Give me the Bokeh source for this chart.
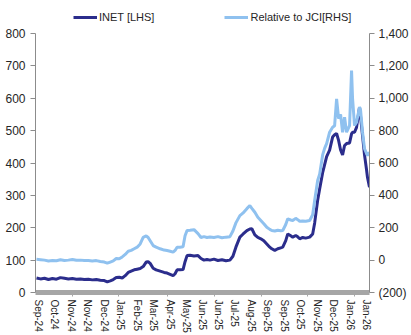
from bokeh.plotting import figure
from bokeh.models import Range1d, LinearAxis, FixedTicker, Legend, LegendItem
from bokeh.layouts import column
from bokeh.embed import file_html
from bokeh.resources import INLINE

# trading-day index (Sep-24 .. Jan-26)
day = [1, 5, 9, 13, 17, 21, 25, 29, 33, 37, 41, 45, 49, 53, 57, 61, 65, 69, 72, 75,
       78, 81, 84, 87, 90, 93, 96, 99, 102, 105, 108, 111, 113, 115, 118, 121, 125, 129, 132, 135,
       138, 140, 142, 145, 148, 150, 152, 155, 159, 163, 166, 169, 172, 175, 179, 183, 187, 191, 195, 198,
       201, 205, 208, 212, 215, 217, 220, 223, 226, 229, 232, 235, 237, 240, 243, 246, 248, 251, 253, 256,
       258, 261, 263, 265, 268, 271, 275, 278, 280, 283, 285, 288, 290, 292, 295, 298, 300, 302, 304, 306,
       308, 310, 312, 315, 317, 318, 320, 322, 325, 326, 328, 330, 332, 333, 335]

# INET share price [LHS]
inet = [45, 42, 44, 40, 43, 41, 46, 44, 42, 43, 41, 42, 40, 41, 39, 40, 38, 37, 33, 36,
        40, 46, 47, 45, 52, 62, 66, 70, 72, 74, 80, 94, 95, 90, 75, 70, 66, 62, 60, 56,
        52, 58, 70, 70, 71, 95, 114, 115, 113, 114, 105, 100, 102, 100, 103, 99, 101, 98, 100, 112,
        140, 171, 180, 191, 196, 197, 178, 170, 166, 160, 150, 140, 135, 130, 135, 138, 140, 160, 181, 175,
        171, 176, 172, 166, 170, 168, 171, 181, 215, 285, 320, 370, 395, 420, 440, 480, 487, 491, 470, 440,
        425, 454, 460, 462, 490, 495, 495, 510, 572, 545, 485, 425, 380, 355, 325]

# Relative to JCI (%) [RHS]
rel = [5, 3, 0, -5, -3, -4, 2, -2, 0, 4, -1, 0, -3, -2, -5, -3, -8, -12, -19, -12,
       -5, 10, 8, 20, 35, 55, 60, 70, 80, 100, 141, 150, 140, 120, 90, 80, 70, 62, 59, 55,
       49, 60, 80, 80, 82, 150, 183, 185, 188, 164, 140, 145, 140, 143, 140, 145, 138, 142, 145, 180,
       230, 275, 290, 318, 337, 320, 296, 265, 245, 225, 203, 190, 183, 180, 185, 182, 183, 220, 255, 248,
       245, 258, 250, 240, 242, 240, 245, 280, 368, 492, 530, 650, 690, 720, 790, 821, 830, 996, 875, 900,
       790, 883, 790, 831, 1171, 1000, 831, 852, 945, 930, 790, 688, 660, 646, 667]

x_labels = ["Sep-24", "Oct-24", "Nov-24", "Nov-24", "Dec-24", "Jan-25", "Feb-25", "Mar-25",
            "Apr-25", "May-25", "Jun-25", "Jun-25", "Jul-25", "Aug-25", "Sep-25", "Sep-25",
            "Oct-25", "Nov-25", "Dec-25", "Jan-26", "Jan-26"]
lhs_ticks = [0, 100, 200, 300, 400, 500, 600, 700, 800]
rhs_ticks = [-200, 0, 200, 400, 600, 800, 1000, 1200, 1400]
rhs_labels = ["(200)", "0", "200", "400", "600", "800", "1,000", "1,200", "1,400"]
series_names = ["INET [LHS]", "Relative to JCI[RHS]"]

DARK = "#2b2d8c"
LIGHT = "#8fc1ef"
AX = "#8c8c8c"
TXT = "#262626"
FONT = "Liberation Sans"

# ---- legend strip ----
top = figure(width=411, height=25, output_backend="svg", toolbar_location=None,
             x_range=Range1d(0, 10), y_range=Range1d(0, 10),
             min_border=0, x_axis_location=None, y_axis_location=None)
top.outline_line_color = None
top.xgrid.visible = False
top.ygrid.visible = False
# off-range stand-in renderers so the legend can show the line styles
l_dark = top.line([-20, -10], [-20, -20], line_color=DARK, line_width=3)
l_light = top.line([-20, -10], [-20, -20], line_color=LIGHT, line_width=3)
legend = Legend(items=[LegendItem(label=series_names[0], renderers=[l_dark]),
                       LegendItem(label=series_names[1], renderers=[l_light])],
                location=(38, 2), orientation="horizontal",
                glyph_width=24, glyph_height=12, label_height=12, label_standoff=2,
                padding=0, margin=0, spacing=70, border_line_color=None,
                background_fill_alpha=0, label_text_font=FONT,
                label_text_font_size="11px", label_text_color=TXT)
top.add_layout(legend, "center")

# ---- main chart ----
p = figure(width=411, height=310, output_backend="svg", toolbar_location=None,
           x_range=Range1d(0, 335), y_range=Range1d(0, 800),
           min_border_left=35, min_border_right=41, min_border_top=8, min_border_bottom=42,
           x_axis_location=None, y_axis_location=None)
p.outline_line_color = None
p.xgrid.visible = False
p.ygrid.visible = False
p.background_fill_color = "white"
p.border_fill_color = "white"

p.extra_y_ranges = {"rhs": Range1d(-200, 1400)}

p.line(day, inet, line_color=DARK, line_width=3)
p.line(day, rel, line_color=LIGHT, line_width=3, y_range_name="rhs")

# x axis
label_pos = [round(3 + 16.45 * i) for i in range(len(x_labels))]
xt = FixedTicker(ticks=label_pos, minor_ticks=[37, 83, 132, 180, 227, 273, 320])
xa = LinearAxis(ticker=xt)
xa.major_label_overrides = {pos: lab for pos, lab in zip(label_pos, x_labels)}
xa.major_label_orientation = "vertical"
xa.axis_line_color = "#a6a6a6"
xa.axis_line_width = 5
xa.major_tick_line_color = None
xa.minor_tick_line_color = "#a6a6a6"
xa.minor_tick_in = 0
xa.minor_tick_out = 4
xa.major_tick_out = 0
xa.major_tick_in = 0
xa.major_label_standoff = 3
xa.major_label_text_font = FONT
xa.major_label_text_font_size = "10px"
xa.major_label_text_color = TXT
p.add_layout(xa, "below")

# left axis
la = LinearAxis(ticker=FixedTicker(ticks=lhs_ticks))
la.axis_line_color = AX
la.major_tick_line_color = AX
la.major_tick_in = 0
la.major_tick_out = 5
la.minor_tick_line_color = None
la.major_label_standoff = 5
la.major_label_text_font = FONT
la.major_label_text_font_size = "12px"
la.major_label_text_color = TXT
p.add_layout(la, "left")

# right axis
ra = LinearAxis(y_range_name="rhs", ticker=FixedTicker(ticks=rhs_ticks))
ra.major_label_overrides = {t: s for t, s in zip(rhs_ticks, rhs_labels)}
ra.axis_line_color = AX
ra.major_tick_line_color = AX
ra.major_tick_in = 0
ra.major_tick_out = 5
ra.minor_tick_line_color = None
ra.major_label_standoff = 4
ra.major_label_text_font = FONT
ra.major_label_text_font_size = "12px"
ra.major_label_text_color = TXT
p.add_layout(ra, "right")

layout = column(top, p, spacing=0)
open("out.html", "w").write(file_html(layout, INLINE))
